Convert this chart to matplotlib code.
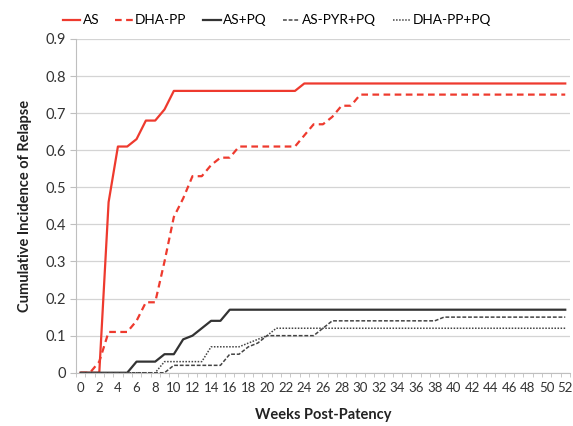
import numpy as np
import matplotlib.pyplot as plt

plt.rcParams['font.family'] = ['Lato', 'DejaVu Sans']

weeks = np.arange(0, 53)

# values, weeks 0..52
as_mono = [0, 0, 0, 0.46, 0.61, 0.61, 0.63, 0.68, 0.68, 0.71,
           0.76, 0.76, 0.76, 0.76, 0.76, 0.76, 0.76, 0.76, 0.76, 0.76,
           0.76, 0.76, 0.76, 0.76] + [0.78] * 29
dha_pp = [0, 0, 0.03, 0.11, 0.11, 0.11, 0.14, 0.19, 0.19, 0.30,
          0.42, 0.47, 0.53, 0.53, 0.56, 0.58, 0.58, 0.61, 0.61, 0.61,
          0.61, 0.61, 0.61, 0.61, 0.64, 0.67, 0.67, 0.69, 0.72, 0.72] + [0.75] * 23
as_pq = [0, 0, 0, 0, 0, 0, 0.03, 0.03, 0.03, 0.05,
         0.05, 0.09, 0.10, 0.12, 0.14, 0.14] + [0.17] * 37
as_pyr_pq = [0, 0, 0, 0, 0, 0, 0, 0, 0, 0,
             0.02, 0.02, 0.02, 0.02, 0.02, 0.02, 0.05, 0.05, 0.07, 0.08,
             0.10, 0.10, 0.10, 0.10, 0.10, 0.10, 0.12] + [0.14] * 12 + [0.15] * 14
dha_pp_pq = [0, 0, 0, 0, 0, 0, 0, 0, 0, 0.03,
             0.03, 0.03, 0.03, 0.03, 0.07, 0.07, 0.07, 0.07, 0.08, 0.09,
             0.10] + [0.12] * 32

red = '#ee3a2e'

fig = plt.figure(figsize=(5.73, 4.26), dpi=100)
ax = fig.add_axes([0.1326, 0.125, 0.862, 0.7835])

ax.plot(weeks, as_mono, color=red, lw=1.6, label='AS')
ax.plot(weeks, dha_pp, color=red, lw=1.6, ls=(0, (3, 2)), label='DHA-PP')
ax.plot(weeks, as_pq, color='#333333', lw=1.6, label='AS+PQ')
ax.plot(weeks, as_pyr_pq, color='#444444', lw=1.1, ls=(0, (2.5, 1.2)), label='AS-PYR+PQ')
ax.plot(weeks, dha_pp_pq, color='#444444', lw=1.1, ls=(0, (1, 1)), label='DHA-PP+PQ')

ax.set_xlim(-0.5, 52.5)
ax.set_ylim(0, 0.9)
ax.set_yticks(np.arange(0, 0.91, 0.1))
ax.set_yticklabels(['0'] + ['%.1f' % v for v in np.arange(0.1, 0.91, 0.1)])
ax.set_xticks(np.arange(0, 53, 2))
ax.set_xticks(np.arange(-0.5, 53, 1), minor=True)
ax.grid(axis='y', color='#d4d4d4', lw=0.9)
ax.set_axisbelow(True)

for s in ['top', 'right']:
    ax.spines[s].set_visible(False)
ax.spines['left'].set_color('#bfbfbf')
ax.spines['bottom'].set_color('#bfbfbf')
ax.tick_params(axis='y', colors='#bfbfbf', labelcolor='#333333', labelsize=10.5, length=4, pad=3)
ax.tick_params(axis='x', which='major', length=0, labelcolor='#333333', labelsize=9.5, pad=7)
ax.tick_params(axis='x', which='minor', colors='#bfbfbf', length=3)

ax.set_xlabel('Weeks Post-Patency', fontsize=10.5, fontweight='bold', color='#222222', labelpad=10)
ax.set_ylabel('Cumulative Incidence of Relapse', fontsize=10.5, fontweight='bold', color='#222222', labelpad=10)

fig.legend(loc='upper center', bbox_to_anchor=(0.483, 0.995), ncol=5, frameon=False,
           fontsize=9.8, handlelength=1.3, handletextpad=0.15, columnspacing=1.2)

fig.savefig('out.png', dpi=100)
